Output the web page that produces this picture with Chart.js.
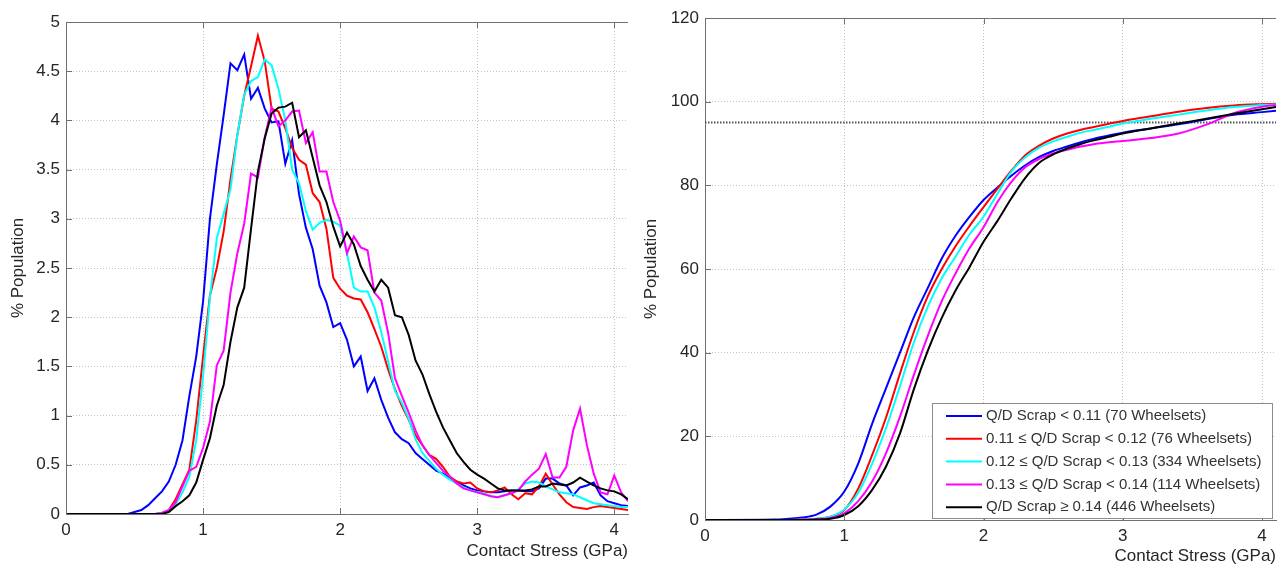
<!DOCTYPE html>
<html>
<head>
<meta charset="utf-8">
<script src="https://cdn.jsdelivr.net/npm/chart.js@4.4.1/dist/chart.umd.min.js"></script>
<style>
  html, body { margin: 0; padding: 0; background: #fff; }
  #wrap { position: relative; width: 1279px; height: 568px; overflow: hidden; }
  .pane { position: absolute; top: 0; height: 568px; }
  #left { left: 0; width: 640px; }
  #right { left: 640px; width: 639px; }
</style>
</head>
<body>
<div id="wrap">
  <div class="pane" id="left"><canvas id="pdfChart" width="640" height="568"></canvas></div>
  <div class="pane" id="right"><canvas id="cdfChart" width="639" height="568"></canvas></div>
</div>
<script>
// series names and colours (same order in both plots)
const seriesLabels = [
  'Q/D Scrap < 0.11 (70 Wheelsets)',
  '0.11 \u2264 Q/D Scrap < 0.12 (76 Wheelsets)',
  '0.12 \u2264 Q/D Scrap < 0.13 (334 Wheelsets)',
  '0.13 \u2264 Q/D Scrap < 0.14 (114 Wheelsets)',
  'Q/D Scrap \u2265 0.14 (446 Wheelsets)'
];
const seriesColors = ['#0000ff', '#ff0000', '#00ffff', '#ff00ff', '#000000'];

// tick values
const xTicks = [0, 1, 2, 3, 4];
const pdfYTicks = [0, 0.5, 1, 1.5, 2, 2.5, 3, 3.5, 4, 4.5, 5];
const cdfYTicks = [0, 20, 40, 60, 80, 100, 120];

// left plot: % population per stress bin
const pdfX = [0, 0.45, 0.5, 0.55, 0.6, 0.65, 0.7, 0.75, 0.8, 0.85, 0.9, 0.95,
  1.0, 1.05, 1.1, 1.15, 1.2, 1.25, 1.3, 1.35, 1.4, 1.45,
  1.5, 1.55, 1.6, 1.65, 1.7, 1.75, 1.8, 1.85, 1.9, 1.95,
  2.0, 2.05, 2.1, 2.15, 2.2, 2.25, 2.3, 2.35, 2.4, 2.45,
  2.5, 2.55, 2.6, 2.65, 2.7, 2.75, 2.8, 2.85, 2.9, 2.95,
  3.0, 3.05, 3.1, 3.15, 3.2, 3.25, 3.3, 3.35, 3.4, 3.45,
  3.5, 3.55, 3.6, 3.65, 3.7, 3.75, 3.8, 3.85, 3.9, 3.95,
  4.0, 4.05, 4.1];
const pdfBlue = [0, 0, 0.02, 0.04, 0.09, 0.16, 0.23, 0.33, 0.5, 0.75, 1.2, 1.6,
  2.16, 3.0, 3.55, 4.05, 4.58, 4.51, 4.67, 4.22, 4.33, 4.12,
  3.98, 3.99, 3.56, 3.8, 3.25, 2.91, 2.69, 2.32, 2.15, 1.9,
  1.94, 1.77, 1.5, 1.6, 1.25, 1.38, 1.16, 0.98, 0.83, 0.76,
  0.72, 0.62, 0.56, 0.5, 0.44, 0.41, 0.37, 0.33, 0.29, 0.26,
  0.24, 0.23, 0.22, 0.22, 0.23, 0.24, 0.24, 0.23, 0.23, 0.26,
  0.36, 0.36, 0.31, 0.29, 0.19, 0.27, 0.29, 0.32, 0.19, 0.13,
  0.11, 0.09, 0.08];
const pdfRed = [0, 0, 0, 0, 0, 0, 0.01, 0.04, 0.15, 0.3, 0.45, 0.95,
  1.6, 2.22, 2.5, 2.87, 3.4, 3.85, 4.25, 4.55, 4.86, 4.6,
  4.12, 4.09, 3.92, 3.72, 3.6, 3.55, 3.26, 3.17, 2.9, 2.4,
  2.29, 2.22, 2.19, 2.18, 2.05, 1.88, 1.7, 1.47, 1.27, 1.1,
  0.96, 0.8, 0.7, 0.6, 0.56, 0.48, 0.38, 0.33, 0.31, 0.32,
  0.26, 0.23, 0.22, 0.24, 0.27, 0.2, 0.15, 0.21, 0.2, 0.28,
  0.41, 0.3, 0.2, 0.12, 0.07, 0.06, 0.05, 0.07, 0.08, 0.07,
  0.06, 0.05, 0.04];
const pdfCyan = [0, 0, 0, 0, 0, 0, 0.01, 0.04, 0.1, 0.22, 0.38, 0.75,
  1.4, 2.2, 2.8, 3.05, 3.3, 3.85, 4.26, 4.4, 4.44, 4.62,
  4.56, 4.32, 4.0, 3.5, 3.36, 3.08, 2.89, 2.96, 2.99, 2.97,
  2.93, 2.65, 2.3, 2.26, 2.26, 2.1, 1.85, 1.55, 1.25, 1.13,
  0.97, 0.76, 0.62, 0.54, 0.46, 0.4, 0.35, 0.31, 0.27, 0.24,
  0.22, 0.21, 0.18, 0.17, 0.19, 0.21, 0.25, 0.31, 0.33, 0.32,
  0.28, 0.25, 0.22, 0.21, 0.2, 0.17, 0.14, 0.11, 0.1, 0.09,
  0.08, 0.07, 0.07];
const pdfMagenta = [0, 0, 0, 0, 0, 0, 0.01, 0.04, 0.12, 0.28, 0.44, 0.48,
  0.67, 0.94, 1.51, 1.66, 2.25, 2.65, 2.95, 3.46, 3.42, 3.83,
  4.13, 3.94, 4.0, 4.09, 4.1, 3.77, 3.88, 3.48, 3.48, 3.17,
  2.98, 2.65, 2.82, 2.71, 2.68, 2.25, 2.17, 1.84, 1.38, 1.2,
  1.03, 0.85, 0.7, 0.6, 0.52, 0.44, 0.38, 0.31, 0.26, 0.24,
  0.22, 0.2, 0.18, 0.17, 0.19, 0.21, 0.24, 0.33, 0.4, 0.46,
  0.61, 0.37, 0.37, 0.48, 0.85, 1.07, 0.7, 0.41, 0.22, 0.2,
  0.39, 0.22, 0.13];
const pdfBlack = [0, 0, 0, 0, 0, 0, 0, 0.02, 0.08, 0.13, 0.19, 0.32,
  0.55, 0.77, 1.1, 1.31, 1.75, 2.1, 2.3, 2.9, 3.48, 3.82,
  4.07, 4.13, 4.14, 4.18, 3.83, 3.9, 3.62, 3.34, 3.17, 2.92,
  2.72, 2.86, 2.74, 2.52, 2.38, 2.26, 2.38, 2.3, 2.02, 2.0,
  1.82, 1.56, 1.42, 1.22, 1.04, 0.88, 0.75, 0.62, 0.53, 0.45,
  0.4, 0.36, 0.31, 0.26, 0.24, 0.24, 0.24, 0.24, 0.25, 0.28,
  0.28, 0.31, 0.3, 0.29, 0.32, 0.37, 0.33, 0.29, 0.26, 0.24,
  0.23, 0.2, 0.15];

// right plot: cumulative % population
const cdfX = [0, 0.5, 0.6, 0.7, 0.8, 0.9, 1.0, 1.1, 1.2, 1.3, 1.4, 1.5, 1.6, 1.7, 1.8, 1.9,
  2.0, 2.1, 2.2, 2.3, 2.4, 2.5, 2.6, 2.7, 2.8, 2.9, 3.0, 3.2, 3.4, 3.6, 3.8, 4.0, 4.1];
const cdfBlue = [0, 0.1, 0.3, 0.6, 1.3, 3.2, 6.8, 13.5, 23, 31.5, 40, 48.5, 55.5, 62.5, 68, 72.5,
  76.5, 79.5, 82.3, 84.8, 86.8, 88.2, 89.3, 90.3, 91.2, 91.9, 92.6, 93.6, 94.6, 95.8, 96.9, 97.5, 97.8];
const cdfRed = [0, 0, 0, 0.1, 0.3, 0.8, 2.4, 7.5, 15.5, 24.5, 35, 45, 53.5, 60, 65.5, 70.3,
  74.8, 79.2, 83.5, 87.2, 89.5, 91.2, 92.4, 93.3, 94, 94.7, 95.4, 96.5, 97.6, 98.5, 99.1, 99.4, 99.5];
const cdfCyan = [0, 0, 0, 0.1, 0.3, 0.8, 2.5, 6.5, 13.5, 22, 32, 42.5, 51, 57.8, 63, 68.3,
  72.5, 78, 83.3, 86.7, 89, 90.5, 91.6, 92.6, 93.3, 94, 94.8, 95.9, 96.9, 97.9, 98.7, 99.2, 99.3];
const cdfMagenta = [0, 0, 0, 0.1, 0.2, 0.5, 1.6, 4.5, 9.2, 16, 24.7, 34.7, 44, 52.3, 59, 65,
  70, 76, 80.8, 84.3, 86.3, 87.6, 88.5, 89.3, 89.9, 90.3, 90.6, 91.3, 92.4, 94.5, 97.3, 98.8, 99.2];
const cdfBlack = [0, 0, 0, 0, 0.1, 0.3, 1.2, 3.3, 7.2, 12.8, 20.7, 31.3, 40.5, 48.3, 54.9, 60.5,
  66.5, 71.5, 76.9, 81.8, 85.4, 87.4, 88.8, 89.9, 90.8, 91.6, 92.4, 93.6, 94.8, 95.9, 97.1, 98.2, 98.7];

// 95 % reference line
const refX = [0, 4.1];
const refY = [95, 95];

Chart.defaults.font.family = '"Liberation Sans", Arial, Helvetica, sans-serif';
Chart.defaults.font.size = 17;
Chart.defaults.color = '#262626';

function pairs(xs, ys) {
  return xs.map((x, i) => ({ x: x, y: ys[i] }));
}

function buildSets(xs, list, smooth) {
  return list.map((ys, i) => ({
    label: seriesLabels[i],
    data: pairs(xs, ys),
    borderColor: seriesColors[i],
    borderWidth: 2,
    pointRadius: 0,
    fill: false,
    tension: 0,
    cubicInterpolationMode: smooth ? 'monotone' : 'default',
    order: list.length - i
  }));
}

// top box line and inward tick marks, matlab style
const boxPlugin = {
  id: 'boxPlugin',
  afterDraw(chart) {
    const { ctx, chartArea: a, scales } = chart;
    ctx.save();
    ctx.strokeStyle = '#707070';
    ctx.lineWidth = 1;
    ctx.beginPath();
    ctx.moveTo(a.left, Math.round(a.top) + 0.5);
    ctx.lineTo(a.right, Math.round(a.top) + 0.5);
    scales.x.ticks.forEach(t => {
      const px = Math.round(scales.x.getPixelForValue(t.value)) + 0.5;
      ctx.moveTo(px, a.bottom);
      ctx.lineTo(px, a.bottom - 6);
      ctx.moveTo(px, a.top);
      ctx.lineTo(px, a.top + 6);
    });
    scales.y.ticks.forEach(t => {
      const py = Math.round(scales.y.getPixelForValue(t.value)) + 0.5;
      ctx.moveTo(a.left, py);
      ctx.lineTo(a.left + 6, py);
    });
    ctx.stroke();
    ctx.restore();
  }
};

// boxed legend in the lower right corner of the cdf plot
const legendPlugin = {
  id: 'legendPlugin',
  afterDraw(chart) {
    const { ctx, chartArea: a } = chart;
    const w = 340, h = 115;
    const bx = Math.round(a.right - 4 - w), by = Math.round(a.bottom - 2 - h);
    ctx.save();
    ctx.fillStyle = '#ffffff';
    ctx.fillRect(bx, by, w, h);
    ctx.strokeStyle = '#8c8c8c';
    ctx.lineWidth = 1;
    ctx.strokeRect(bx + 0.5, by + 0.5, w, h);
    ctx.font = '15px "Liberation Sans", Arial, sans-serif';
    ctx.textBaseline = 'middle';
    seriesLabels.forEach((lab, i) => {
      const cy = by + 13 + i * 22.8;
      ctx.strokeStyle = seriesColors[i];
      ctx.lineWidth = 2;
      ctx.beginPath();
      ctx.moveTo(bx + 14, cy);
      ctx.lineTo(bx + 50, cy);
      ctx.stroke();
      ctx.fillStyle = '#333333';
      ctx.fillText(lab, bx + 54, cy);
    });
    ctx.restore();
  }
};

function axes(yTicks, yMax, yWidth, xHeight, yTitlePad, xTitlePad) {
  const grid = { color: '#c4c4c4', lineWidth: 1, drawTicks: false };
  const border = { display: true, color: '#707070', width: 1, dash: [1, 2] };
  return {
    x: {
      type: 'linear', min: 0, max: 4.1,
      afterBuildTicks: s => { s.ticks = xTicks.map(v => ({ value: v })); },
      afterFit: s => { s.height = xHeight; },
      ticks: { padding: 6, includeBounds: false, callback: v => String(v) },
      grid: grid, border: border,
      title: { display: true, text: 'Contact Stress (GPa)', align: 'end',
        font: { size: 17 }, padding: { top: 0, bottom: xTitlePad } }
    },
    y: {
      type: 'linear', min: 0, max: yMax,
      afterBuildTicks: s => { s.ticks = yTicks.map(v => ({ value: v })); },
      afterFit: s => { s.width = yWidth; },
      ticks: { padding: 6, callback: v => String(v) },
      grid: grid, border: border,
      title: { display: true, text: '% Population',
        font: { size: 17 }, padding: { top: yTitlePad, bottom: 0 } }
    }
  };
}

new Chart(document.getElementById('pdfChart'), {
  type: 'line',
  data: { datasets: buildSets(pdfX, [pdfBlue, pdfRed, pdfCyan, pdfMagenta, pdfBlack], false) },
  options: {
    responsive: false, animation: false,
    layout: { padding: { top: 22, right: 12, left: 0, bottom: 0 } },
    plugins: { legend: { display: false }, tooltip: { enabled: false } },
    scales: axes(pdfYTicks, 5, 66, 54, 8, 6)
  },
  plugins: [boxPlugin]
});

const cdfSets = buildSets(cdfX, [cdfBlue, cdfRed, cdfCyan, cdfMagenta, cdfBlack], true);
cdfSets.push({
  label: '95%', data: pairs(refX, refY),
  borderColor: '#555555', borderWidth: 2, borderDash: [1.5, 1.5],
  pointRadius: 0, fill: false, order: 10
});

new Chart(document.getElementById('cdfChart'), {
  type: 'line',
  data: { datasets: cdfSets },
  options: {
    responsive: false, animation: false,
    layout: { padding: { top: 18, right: 3, left: 0, bottom: 0 } },
    plugins: { legend: { display: false }, tooltip: { enabled: false } },
    scales: axes(cdfYTicks, 120, 65, 48, 1, 1)
  },
  plugins: [boxPlugin, legendPlugin]
});
</script>
</body>
</html>
